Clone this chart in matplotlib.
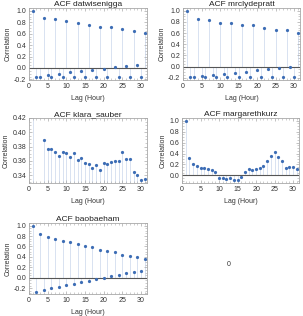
import numpy as np
import matplotlib
matplotlib.use('Agg')
import matplotlib.pyplot as plt
from matplotlib.ticker import AutoMinorLocator, FormatStrFormatter

plt.rcParams['font.family'] = ['Liberation Sans', 'DejaVu Sans']

lags = list(range(1, 32))

acf_datwisenigga = [1.0, -0.15, -0.15, 0.87, -0.12, -0.15, 0.86, -0.10, -0.15, 0.82, -0.07,
                    -0.15, 0.78, -0.05, -0.15, 0.76, -0.03, -0.15, 0.72, -0.01, -0.15, 0.72,
                    0.01, -0.15, 0.68, 0.04, -0.15, 0.65, 0.06, -0.15, 0.62]
acf_mrclydepratt = [1.0, -0.19, -0.19, 0.85, -0.17, -0.19, 0.84, -0.15, -0.19, 0.78, -0.13,
                    -0.19, 0.78, -0.11, -0.19, 0.75, -0.09, -0.19, 0.74, -0.06, -0.19, 0.70,
                    -0.04, -0.19, 0.66, -0.02, -0.19, 0.65, 0.00, -0.19, 0.60]
acf_klara_sauber = [1.0, 0.30, 0.30, 0.389, 0.377, 0.376, 0.372, 0.367, 0.373, 0.371, 0.365,
                    0.371, 0.361, 0.364, 0.357, 0.356, 0.350, 0.354, 0.347, 0.357, 0.355,
                    0.358, 0.360, 0.360, 0.372, 0.363, 0.362, 0.344, 0.340, 0.333, 0.334]
acf_margarethkurz = [1.0, 0.32, 0.20, 0.18, 0.14, 0.14, 0.12, 0.10, 0.06, -0.05, -0.05,
                     -0.07, -0.05, -0.08, -0.09, -0.03, 0.07, 0.11, 0.09, 0.12, 0.13, 0.18,
                     0.26, 0.35, 0.43, 0.34, 0.26, 0.14, 0.15, 0.15, 0.11]
acf_baobaeham = [1.0, -0.27, 0.83, -0.24, 0.78, -0.20, 0.75, -0.17, 0.71, -0.14, 0.68,
                 -0.11, 0.64, -0.08, 0.60, -0.06, 0.59, -0.03, 0.54, -0.01, 0.51, 0.03,
                 0.49, 0.06, 0.44, 0.09, 0.41, 0.12, 0.39, 0.13, 0.37]

W, H = 303, 316
fig = plt.figure(figsize=(W / 100, H / 100), dpi=100)

STEM = '#d8e2f1'
DOT = '#3d6db5'
FRAME = '#a8a8a8'
TXT = '#333333'


def px_axes(left, top, right, bottom):
    # pixel box -> figure fraction
    return fig.add_axes([left / W, 1 - bottom / H, (right - left) / W, (bottom - top) / H])


def acf_panel(box, name, values, ylim, yticks, base=0.0):
    ax = px_axes(*box)
    vals = np.array(values)
    ax.vlines(lags, base, vals, color=STEM, lw=0.7, zorder=1)
    ax.plot(lags, vals, 'o', ms=1.3, color=DOT, zorder=3)
    if ylim[0] < 0 < ylim[1]:
        ax.axhline(0, color='#555555', lw=0.8, zorder=2)
    ax.set_xlim(0, 31.6)
    ax.set_ylim(*ylim)
    ax.set_xticks([0, 5, 10, 15, 20, 25, 30])
    ax.set_yticks(yticks)
    ax.xaxis.set_minor_locator(AutoMinorLocator(5))
    ax.yaxis.set_minor_locator(AutoMinorLocator(4))
    ax.tick_params(which='both', direction='in', top=True, right=True, color=FRAME,
                   labelsize=5.0, pad=2, labelcolor=TXT)
    ax.tick_params(which='major', length=2.2, width=0.5)
    ax.tick_params(which='minor', length=1.2, width=0.4)
    for s in ax.spines.values():
        s.set_color(FRAME)
        s.set_linewidth(0.6)
    ax.set_title('ACF ' + name, fontsize=6.0, pad=1.5, color='#222222')
    ax.set_xlabel('Lag (Hour)', fontsize=5.0, labelpad=4, color=TXT)
    ax.set_ylabel('Correlation', fontsize=5.0, labelpad=2, color=TXT)
    ax.yaxis.set_major_formatter(FormatStrFormatter('%.1f' if ylim[1] > 0.5 else '%.2f'))
    return ax


yt1 = [-0.2, 0.0, 0.2, 0.4, 0.6, 0.8, 1.0]
acf_panel((29, 8, 147, 80), 'datwisenigga', acf_datwisenigga, (-0.21, 1.05), yt1)
acf_panel((183, 8, 300, 80), 'mrclydepratt', acf_mrclydepratt, (-0.24, 1.05), yt1)
acf_panel((29, 118, 147, 183), 'klara_sauber', acf_klara_sauber, (0.329, 0.42),
          [0.34, 0.36, 0.38, 0.40, 0.42], base=0.329)
acf_panel((182, 118, 299, 183), 'margarethkurz', acf_margarethkurz, (-0.14, 1.05),
          [0.0, 0.2, 0.4, 0.6, 0.8, 1.0])
acf_panel((29, 223, 147, 294), 'baobaeham', acf_baobaeham, (-0.31, 1.05),
          [-0.2, 0.0, 0.2, 0.4, 0.6, 0.8, 1.0])

fig.text(229 / W, 1 - 265 / H, '0', fontsize=5.0, ha='center', va='center', color=TXT)

fig.savefig('out.png', dpi=100)
